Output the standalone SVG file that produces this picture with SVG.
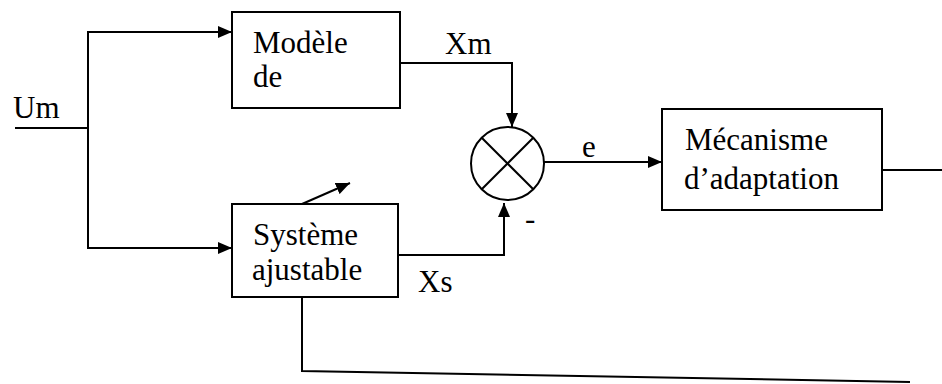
<svg xmlns="http://www.w3.org/2000/svg" width="942" height="384" viewBox="0 0 942 384">
<style>
.box{fill:#fff;stroke:#000;stroke-width:2}
.ln{fill:none;stroke:#000;stroke-width:2}
.t{font-family:'Liberation Serif',serif;font-size:31px;fill:#000}
</style>
<defs>
<marker id="arr" markerWidth="14" markerHeight="12" refX="14" refY="6" orient="auto" markerUnits="userSpaceOnUse">
<path d="M0,0 L14,6 L0,12 Z" fill="#000"/>
</marker>
</defs>
<rect width="942" height="384" fill="#fff"/>
<g id="connectors">
<polyline class="ln" points="15,128 88,128"/>
<polyline class="ln" points="88,128 88,32 232,32" marker-end="url(#arr)"/>
<polyline class="ln" points="88,128 88,248 232,248" marker-end="url(#arr)"/>
<polyline class="ln" points="400,63 512,63 512,127" marker-end="url(#arr)"/>
<polyline class="ln" points="398,255 504,255 504,203" marker-end="url(#arr)"/>
<polyline class="ln" points="544,162 662,162" marker-end="url(#arr)"/>
<polyline class="ln" points="882,170 942,170"/>
<polyline class="ln" points="302,297 302,371 910,382"/>
<line class="ln" x1="302" y1="204" x2="350" y2="183" marker-end="url(#arr)"/>
</g>
<g id="modele">
<rect class="box" x="232" y="12" width="168" height="96"/>
<text class="t" font-family="Liberation Serif" x="253" y="53">Modèle</text>
<text class="t" font-family="Liberation Serif" x="253" y="87">de</text>
</g>
<g id="systeme">
<rect class="box" x="232" y="204" width="166" height="93"/>
<text class="t" font-family="Liberation Serif" x="253" y="245">Système</text>
<text class="t" font-family="Liberation Serif" x="252" y="280">ajustable</text>
</g>
<g id="comparateur">
<circle cx="507.5" cy="163.5" r="36.5" fill="#fff" stroke="#000" stroke-width="2"/>
<line class="ln" x1="481.7" y1="137.7" x2="533.3" y2="189.3"/>
<line class="ln" x1="533.3" y1="137.7" x2="481.7" y2="189.3"/>
</g>
<g id="mecanisme">
<rect class="box" x="662" y="109" width="220" height="101"/>
<text class="t" font-family="Liberation Serif" x="685" y="150">Mécanisme</text>
<text class="t" font-family="Liberation Serif" x="684" y="189">d’adaptation</text>
</g>
<g id="labels">
<text class="t" font-family="Liberation Serif" x="13" y="118">Um</text>
<text class="t" font-family="Liberation Serif" x="445" y="54">Xm</text>
<text class="t" font-family="Liberation Serif" x="418" y="292">Xs</text>
<text class="t" font-family="Liberation Serif" x="582" y="157">e</text>
<text class="t" font-family="Liberation Serif" x="525" y="229" font-size="22">-</text>
</g>
</svg>
